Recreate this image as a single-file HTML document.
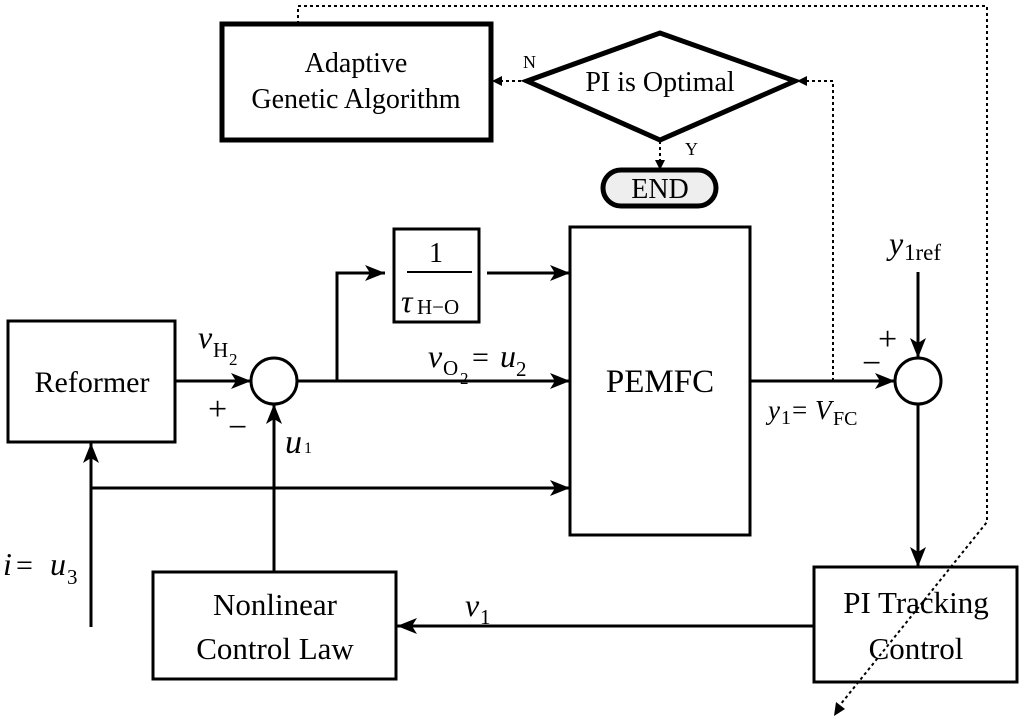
<!DOCTYPE html>
<html><head><meta charset="utf-8"><style>html,body{margin:0;padding:0;background:#fff}svg{display:block}
svg, text{font-family:"Liberation Serif","Times New Roman",Times,serif;fill:#000}</style></head><body>
<svg width="1024" height="719" viewBox="0 0 1024 719" xmlns="http://www.w3.org/2000/svg" font-family="Liberation Serif, Times New Roman, serif">
<defs>
<marker id="a" markerWidth="10" markerHeight="10" refX="9" refY="5" orient="auto" markerUnits="userSpaceOnUse" viewBox="0 0 10 10"><path d="M0,0 L10,5 L0,10 z"/></marker>
<marker id="A" markerWidth="20" markerHeight="16" refX="20" refY="8" orient="auto" markerUnits="userSpaceOnUse"><path d="M0,0 L20,8 L0,16 L5,8 z"/></marker>
</defs>
<g fill="none" stroke="#000" stroke-width="3">
<rect x="222" y="24" width="269" height="116" stroke-width="5"/>
<polygon points="527,81 660,33 795,81 660,140" stroke-width="5"/>
<rect x="603" y="170" width="113" height="36" rx="18" stroke-width="5" fill="#eee"/>
<rect x="8" y="321" width="167" height="121"/>
<rect x="394" y="229" width="85" height="93"/>
<rect x="570" y="227" width="180" height="308"/>
<rect x="153" y="572" width="243" height="107"/>
<rect x="814" y="567" width="203" height="115"/>
<circle cx="274" cy="381" r="23"/>
<circle cx="918" cy="381" r="23"/>
<line x1="407" y1="272" x2="472" y2="272" stroke-width="2"/>
<line x1="175" y1="381" x2="251" y2="381" marker-end="url(#A)"/>
<line x1="297" y1="381" x2="570" y2="381" marker-end="url(#A)"/>
<polyline points="337,381 337,273 385,273" marker-end="url(#A)"/>
<line x1="487" y1="273" x2="570" y2="273" marker-end="url(#A)"/>
<line x1="91" y1="488" x2="570" y2="488" marker-end="url(#A)"/>
<line x1="91" y1="627" x2="91" y2="443" marker-end="url(#A)"/>
<line x1="274" y1="572" x2="274" y2="404" marker-end="url(#A)"/>
<line x1="750" y1="381" x2="895" y2="381" marker-end="url(#A)"/>
<line x1="918" y1="272" x2="918" y2="358" marker-end="url(#A)"/>
<line x1="918" y1="404" x2="918" y2="567" marker-end="url(#A)"/>
<line x1="814" y1="626" x2="397" y2="626" marker-end="url(#A)"/>
<g stroke-width="2" stroke-dasharray="3,3">
<polyline points="298,24 298,6 987,6 987,522 840,705"/>
<line x1="527" y1="81" x2="493" y2="81" marker-end="url(#a)"/>
<line x1="660" y1="141" x2="660" y2="169" marker-end="url(#a)"/>
<polyline points="833,381 833,81 798,81" marker-end="url(#a)"/>
</g>
</g>
<path d="M834,716 L836,702 L845,709 Z"/>
<g font-size="28" text-anchor="middle">
<text x="356" y="72">Adaptive</text>
<text x="356" y="108">Genetic Algorithm</text>
<text x="660" y="91">PI is Optimal</text>
<text x="660" y="198">END</text>
<text x="92" y="392" font-size="30">Reformer</text>
<text x="660" y="392" font-size="33">PEMFC</text>
<text x="275" y="615" font-size="31">Nonlinear</text>
<text x="275" y="659" font-size="31">Control Law</text>
<text x="916" y="613" font-size="31">PI Tracking</text>
<text x="916" y="659" font-size="31">Control</text>
<text x="436" y="262">1</text>
</g>
<text x="523" y="68" font-size="18">N</text>
<text x="685" y="155" font-size="18">Y</text>
<text x="401" y="312" font-size="32" font-style="italic">τ</text><text x="417" y="314" font-size="21">H−O</text>
<text x="198" y="348" font-size="32" font-style="italic">v</text><text x="213" y="357" font-size="21">H</text><text x="229" y="365" font-size="17">2</text>
<text x="208" y="420" font-size="34">+</text>
<text x="228" y="438" font-size="34">−</text>
<text x="285" y="453" font-size="34" font-style="italic">u</text><text x="304" y="453" font-size="16">1</text>
<text x="428" y="367" font-size="32" font-style="italic">v</text><text x="443" y="375" font-size="21">O</text><text x="460" y="384" font-size="17">2</text><text x="472" y="367" font-size="30">=</text><text x="500" y="367" font-size="32" font-style="italic">u</text><text x="516" y="376" font-size="21">2</text>
<text x="3" y="575" font-size="32" font-style="italic">i</text><text x="16" y="575" font-size="30">=</text><text x="50" y="575" font-size="32" font-style="italic">u</text><text x="67" y="584" font-size="21">3</text>
<text x="465" y="616" font-size="32" font-style="italic">v</text><text x="480" y="624" font-size="21">1</text>
<text x="768" y="419" font-size="27" font-style="italic">y</text><text x="781" y="424" font-size="20">1</text><text x="792" y="419" font-size="27">=</text><text x="815" y="419" font-size="27" font-style="italic">V</text><text x="833" y="425" font-size="20">FC</text>
<text x="889" y="254" font-size="32" font-style="italic">y</text><text x="904" y="260" font-size="23">1ref</text>
<text x="878" y="350" font-size="34">+</text>
<text x="862" y="374" font-size="34">−</text>
</svg>
</body></html>
